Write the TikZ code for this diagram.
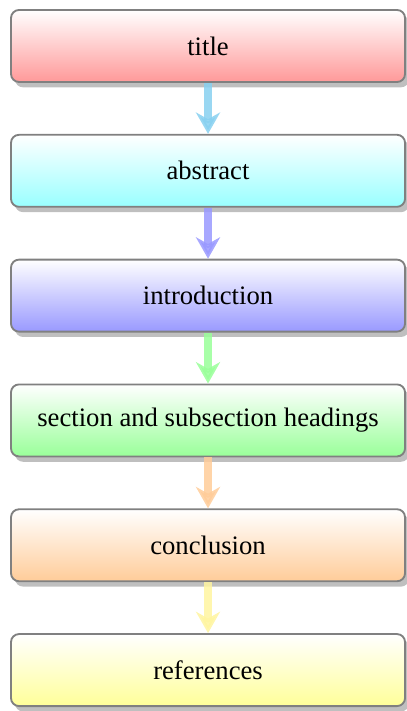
\documentclass[tikz,border=0pt]{standalone}
\usepackage{fontspec}
\setmainfont{Liberation Serif}
\usetikzlibrary{positioning,shadows,arrows.meta}
\definecolor{skyarrow}{RGB}{135,208,240}
\definecolor{paleyellow}{RGB}{255,245,160}

\begin{document}
\begin{tikzpicture}[
    part/.style={draw=gray, line width=0.7pt, rounded corners=3pt,
      minimum width=147.75pt, minimum height=27pt,
      drop shadow={shadow xshift=1.5pt, shadow yshift=-2pt, fill=gray, opacity=0.5},
      top color=white, bottom color=#1!40},
    flow/.style={#1, line width=3pt, opacity=0.85,
      -{Stealth[length=8pt,width=9pt,inset=2.5pt]}},
    node distance=19.1pt
  ]
  \useasboundingbox (0,0) rectangle (152.25pt,-266.6pt);

  \node[part=red] (title) at (78pt,-17.25pt) {title};
  \node[part=cyan, below=of title] (abstract) {abstract};
  \node[part=blue, below=of abstract] (intro) {introduction};
  \node[part=green, below=of intro] (sections) {section and subsection headings};
  \node[part=orange, below=of sections] (concl) {conclusion};
  \node[part=yellow, below=of concl] (refs) {references};

  \draw[flow=skyarrow] (title.south) -- (abstract.north);
  \draw[flow=blue!40] (abstract.south) -- (intro.north);
  \draw[flow=green!40] (intro.south) -- (sections.north);
  \draw[flow=orange!40] (sections.south) -- (concl.north);
  \draw[flow=paleyellow] (concl.south) -- (refs.north);
\end{tikzpicture}
\end{document}
